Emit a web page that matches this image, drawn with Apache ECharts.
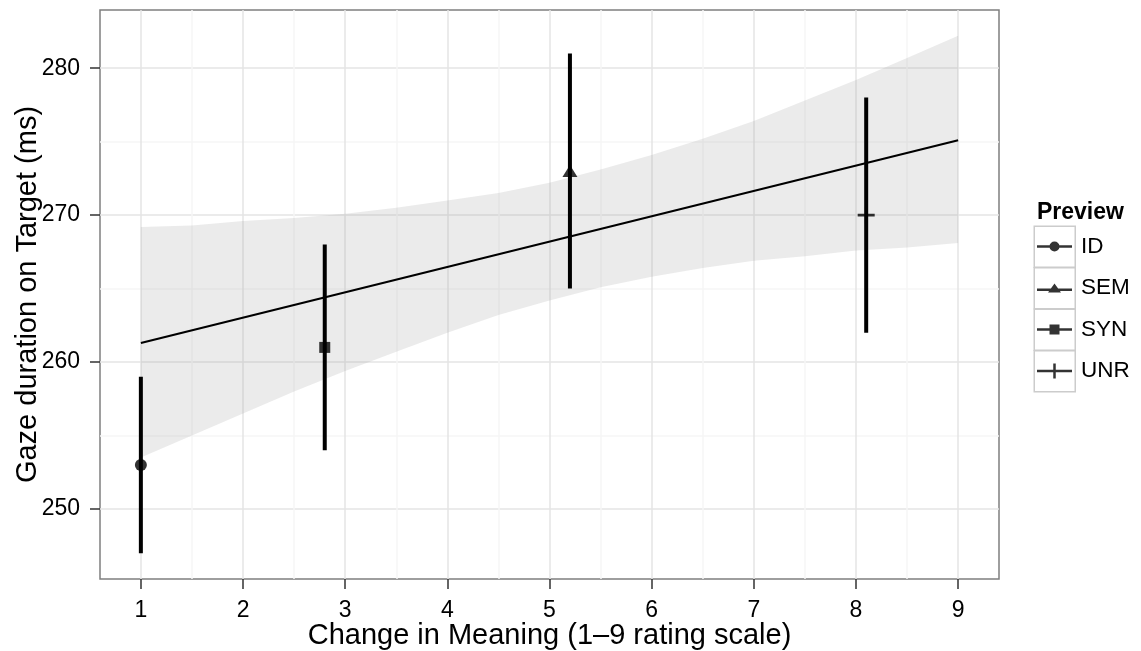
<!DOCTYPE html>
<html>
<head>
<meta charset="utf-8">
<script src="https://cdn.jsdelivr.net/npm/echarts@6/dist/echarts.min.js"></script>
<style>html,body{margin:0;padding:0;background:#fff}#c{width:1141px;height:651px}</style>
</head>
<body>
<div id="c"></div>
<script>
// ---- data ----
const previews = ['ID', 'SEM', 'SYN', 'UNR'];
const meaning  = [1, 5.2, 2.8, 8.1];
const gaze     = [253, 273, 261, 270];
const errLow   = [247, 265, 254, 262];
const errHigh  = [259, 281, 268, 278];

const fitX = [1, 9];
const fitY = [261.3, 275.1];

const bandX    = [1, 1.5, 2, 2.5, 3, 3.5, 4, 4.5, 5, 5.5, 6, 6.5, 7, 7.5, 8, 8.5, 9];
const bandLow  = [253.5, 255.0, 256.5, 258.0, 259.4, 260.7, 262.0, 263.2, 264.2, 265.1, 265.8, 266.4, 266.9, 267.2, 267.6, 267.8, 268.1];
const bandHigh = [269.2, 269.3, 269.6, 269.8, 270.1, 270.5, 271.0, 271.5, 272.2, 273.1, 274.1, 275.2, 276.4, 277.8, 279.2, 280.7, 282.2];

const xTicks = [1, 2, 3, 4, 5, 6, 7, 8, 9];
const xMinor = [1.5, 2.5, 3.5, 4.5, 5.5, 6.5, 7.5, 8.5];
const yTicks = [250, 260, 270, 280];
const yMinor = [255, 265, 275];

const xTitle = 'Change in Meaning (1\u20139 rating scale)';
const yTitle = 'Gaze duration on Target (ms)';
const legendTitle = 'Preview';

// ---- styling ----
const FONT = 'Liberation Sans, Arial, Helvetica, sans-serif';
const symbols = {
  ID: 'circle',
  SEM: 'triangle',
  SYN: 'rect',
  UNR: 'path://M0,7H17V9.5H0Z M7.25,0H9.75V16.5H7.25Z'
};
const symbolSizes = { ID: 12, SEM: [15, 12], SYN: 11, UNR: [17, 17] };
const legendIcons = {
  ID: 'path://M0,3.75H35V6.25H0Z M12.5,5A5,5 0 1 1 22.5,5A5,5 0 1 1 12.5,5Z',
  SEM: 'path://M0,5H35V7.5H0Z M17.5,0L24,9L11,9Z',
  SYN: 'path://M0,3.75H35V6.25H0Z M12.5,0H22.5V10H12.5Z',
  UNR: 'path://M0,6.25H35V8.75H0Z M16.25,0H18.75V15H16.25Z'
};

const xMin = 0.6, xMax = 9.4, yMin = 245.24, yMax = 283.96;

const chart = echarts.init(document.getElementById('c'), null, { renderer: 'canvas' });

const scatterSeries = previews.map((p, i) => ({
  name: p,
  type: 'scatter',
  xAxisIndex: 0, yAxisIndex: 0,
  symbol: symbols[p],
  symbolSize: symbolSizes[p],
  itemStyle: { color: '#000' },
  data: [[meaning[i], gaze[i]]],
  z: 10
}));

const keyBoxes = previews.map((p, i) => ({
  type: 'rect',
  left: 1033.5, top: 225.5 + i * 41.5,
  shape: { width: 41, height: 41 },
  style: { fill: '#fff', stroke: '#cccccc', lineWidth: 1.5 },
  z: 1
}));

chart.setOption({
  animation: false,
  backgroundColor: '#fff',
  grid: { left: 100, right: 142, top: 10, bottom: 72, show: true, borderColor: '#7f7f7f', borderWidth: 1.5,
          containLabel: false, outerBoundsMode: 'none', z: 0 },
  title: {
    text: legendTitle, left: 1032, top: 196,
    textStyle: { fontFamily: FONT, fontSize: 23, fontWeight: 'bold', color: '#000' }
  },
  legend: {
    orient: 'vertical', left: 1037, top: 226, padding: 0,
    itemWidth: 35, itemHeight: 41, itemGap: 0.5,
    data: previews.map(p => ({ name: p, icon: legendIcons[p] })),
    textStyle: { fontFamily: FONT, fontSize: 22.5, lineHeight: 41, color: '#000', padding: [0, 0, 0, 4] },
    selectedMode: false, z: 5
  },
  graphic: keyBoxes,
  xAxis: [{
    type: 'value', min: xMin, max: xMax,
    name: xTitle, nameLocation: 'middle', nameGap: 42, nameMoveOverlap: false,
    nameTextStyle: { fontFamily: FONT, fontSize: 29, color: '#000' },
    axisLine: { show: false },
    axisTick: { show: true, length: 10, customValues: xTicks, lineStyle: { color: '#333', width: 1.5 } },
    axisLabel: { customValues: xTicks, margin: 20, fontFamily: FONT, fontSize: 23, color: '#000' },
    splitLine: { show: true, lineStyle: { color: '#e5e5e5', width: 1.5 } }
  }, {
    type: 'value', min: xMin, max: xMax, position: 'bottom',
    axisLine: { show: false },
    axisTick: { show: false, customValues: xMinor },
    axisLabel: { show: false, customValues: xMinor },
    splitLine: { show: true, lineStyle: { color: '#f6f6f6', width: 1.5 } }
  }],
  yAxis: [{
    type: 'value', min: yMin, max: yMax,
    name: yTitle, nameLocation: 'middle', nameGap: 58, nameRotate: 90, nameMoveOverlap: false,
    nameTextStyle: { fontFamily: FONT, fontSize: 29, color: '#000' },
    axisLine: { show: false },
    axisTick: { show: true, length: 10, customValues: yTicks, lineStyle: { color: '#333', width: 1.5 } },
    axisLabel: { customValues: yTicks, margin: 20, fontFamily: FONT, fontSize: 23, color: '#000' },
    splitLine: { show: true, lineStyle: { color: '#e5e5e5', width: 1.5 } }
  }, {
    type: 'value', min: yMin, max: yMax, position: 'left',
    axisLine: { show: false },
    axisTick: { show: false, customValues: yMinor },
    axisLabel: { show: false, customValues: yMinor },
    splitLine: { show: true, lineStyle: { color: '#f6f6f6', width: 1.5 } }
  }],
  series: [
    {
      name: 'ci', type: 'custom', silent: true,
      xAxisIndex: 0, yAxisIndex: 0,
      encode: { x: 0, y: [1, 2] },
      data: bandX.map((x, i) => [x, bandLow[i], bandHigh[i]]),
      renderItem: function (params, api) {
        if (params.dataIndex !== 0) return null;
        const pts = [];
        for (let i = 0; i < bandX.length; i++) pts.push(api.coord([bandX[i], bandHigh[i]]));
        for (let i = bandX.length - 1; i >= 0; i--) pts.push(api.coord([bandX[i], bandLow[i]]));
        return { type: 'polygon', shape: { points: pts }, style: { fill: 'rgba(153,153,153,0.2)' } };
      },
      z: 3
    },
    {
      name: 'fit', type: 'line', symbol: 'none', silent: true,
      xAxisIndex: 0, yAxisIndex: 0,
      lineStyle: { color: '#000', width: 2.2 },
      data: fitX.map((x, i) => [x, fitY[i]]),
      z: 4
    },
    {
      name: 'errors', type: 'custom', silent: true,
      xAxisIndex: 0, yAxisIndex: 0,
      encode: { x: 0, y: [1, 2] },
      data: meaning.map((x, i) => [x, errLow[i], errHigh[i]]),
      renderItem: function (params, api) {
        const p1 = api.coord([api.value(0), api.value(1)]);
        const p2 = api.coord([api.value(0), api.value(2)]);
        return { type: 'line', shape: { x1: p1[0], y1: p1[1], x2: p2[0], y2: p2[1] },
                 style: { stroke: '#000', lineWidth: 4 } };
      },
      z: 5
    }
  ].concat(scatterSeries)
});
</script>
</body>
</html>
